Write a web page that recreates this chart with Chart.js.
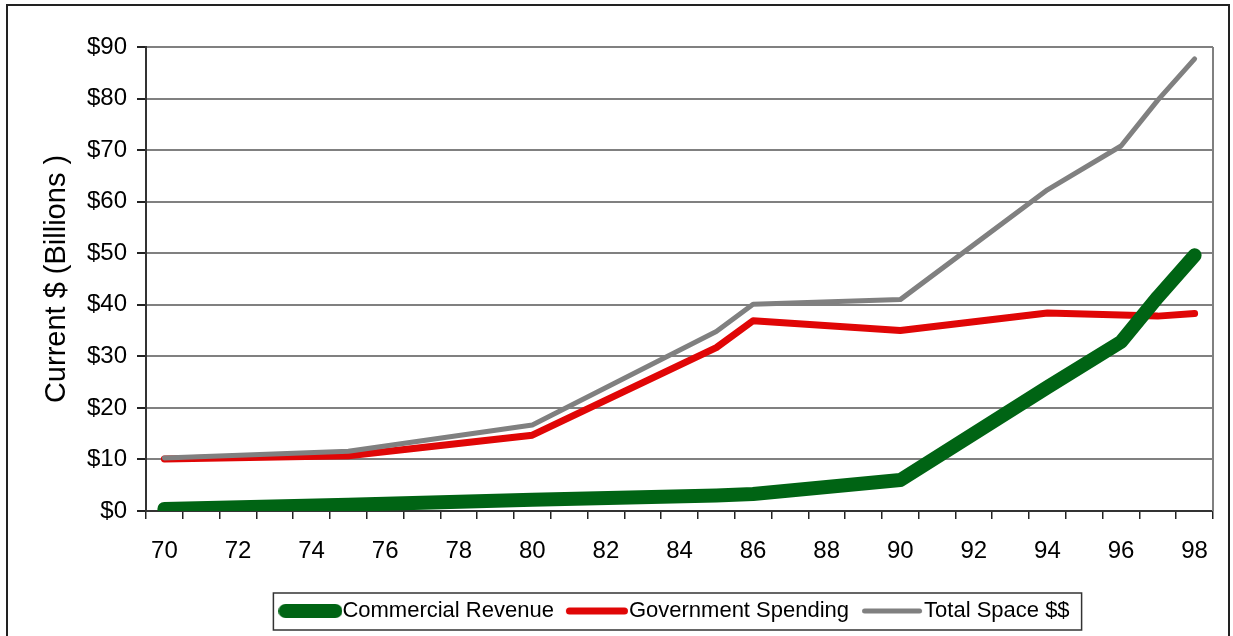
<!DOCTYPE html>
<html>
<head>
<meta charset="utf-8">
<script src="https://cdn.jsdelivr.net/npm/chart.js@4.4.1/dist/chart.umd.min.js"></script>
<style>
  html, body { margin: 0; padding: 0; background: #fff; }
  #wrap { position: relative; width: 1233px; height: 636px; }
</style>
</head>
<body>
<div id="wrap"><canvas id="spaceChart"></canvas></div>
<script>
// x axis runs one category per year, labels shown on even years only
const years = [];
for (let y = 70; y <= 98; y++) years.push(String(y));

const pointYears = ['70', '75', '80', '85', '86', '90', '94', '96', '97', '98'];
const commercialRevenue = [0.4, 1.2, 2.2, 3.0, 3.3, 6.0, 24.0, 32.8, 41.5, 49.6];
const governmentSpending = [10.1, 10.7, 14.7, 31.7, 36.9, 35.0, 38.4, 38.0, 37.8, 38.3];
const totalSpace = [10.3, 11.6, 16.7, 34.8, 40.1, 41.0, 62.3, 70.8, 79.7, 87.7];

const SANS = '"Liberation Sans", Arial, sans-serif';

function series(values) {
    return pointYears.map((yr, i) => ({ x: yr, y: values[i] }));
}

// round-capped line sample used as the legend marker
function legendLine(color, width, inset) {
    const cv = document.createElement('canvas');
    cv.width = 64;
    cv.height = 16;
    const g = cv.getContext('2d');
    g.strokeStyle = color;
    g.lineWidth = width;
    g.lineCap = 'round';
    g.beginPath();
    g.moveTo(inset + width / 2, 8);
    g.lineTo(64 - inset - width / 2, 8);
    g.stroke();
    return cv;
}

// white background, outer frame, right edge of the plot box, legend frame
const framePlugin = {
    id: 'frames',
    beforeDraw(chart) {
        const c = chart.ctx;
        c.save();
        c.fillStyle = '#fff';
        c.fillRect(0, 0, chart.width, chart.height);
        c.strokeStyle = '#222';
        c.lineWidth = 2;
        c.strokeRect(7, 5, 1222, 640);
        c.restore();
    },
    beforeDatasetsDraw(chart) {
        const a = chart.chartArea;
        const c = chart.ctx;
        c.save();
        c.strokeStyle = '#808080';
        c.lineWidth = 2;
        c.beginPath();
        c.moveTo(a.right, a.top);
        c.lineTo(a.right, a.bottom);
        c.stroke();
        c.restore();
    },
    afterDraw(chart) {
        const boxes = chart.legend && chart.legend.legendHitBoxes;
        if (!boxes || !boxes.length) return;
        const first = boxes[0];
        const last = boxes[boxes.length - 1];
        const c = chart.ctx;
        c.save();
        c.strokeStyle = '#333';
        c.lineWidth = 1.5;
        const x0 = first.left - 16;
        const x1 = last.left + last.width + 12;
        c.strokeRect(x0, first.top - 7, x1 - x0, first.height + 15);
        c.restore();
    }
};

const ctx = document.getElementById('spaceChart').getContext('2d');

new Chart(ctx, {
    type: 'line',
    data: {
        labels: years,
        datasets: [{
            label: 'Commercial Revenue',
            data: series(commercialRevenue),
            borderColor: '#006414',
            backgroundColor: '#006414',
            borderWidth: 14,
            borderCapStyle: 'round',
            borderJoinStyle: 'round',
            pointRadius: 0,
            pointStyle: legendLine('#006414', 14, 0),
            tension: 0,
            order: 0
        }, {
            label: 'Government Spending',
            data: series(governmentSpending),
            borderColor: '#e00606',
            backgroundColor: '#e00606',
            borderWidth: 7,
            borderCapStyle: 'round',
            borderJoinStyle: 'round',
            pointRadius: 0,
            pointStyle: legendLine('#e00606', 7, 1),
            tension: 0,
            order: 2
        }, {
            label: 'Total Space $$',
            data: series(totalSpace),
            borderColor: '#808080',
            backgroundColor: '#808080',
            borderWidth: 5,
            borderCapStyle: 'round',
            borderJoinStyle: 'round',
            pointRadius: 0,
            pointStyle: legendLine('#808080', 5, 2),
            tension: 0,
            order: 1
        }]
    },
    options: {
        responsive: true,
        maintainAspectRatio: false,
        animation: false,
        layout: {
            padding: { left: 20, right: 20, top: 47, bottom: 4 }
        },
        scales: {
            x: {
                type: 'category',
                offset: true,
                afterFit(scale) { scale.height = 67; },
                grid: {
                    offset: true,
                    drawOnChartArea: false,
                    drawTicks: true,
                    tickLength: 8,
                    tickColor: '#222',
                    lineWidth: 1.5
                },
                border: { color: '#333', width: 2 },
                ticks: {
                    autoSkip: false,
                    maxRotation: 0,
                    padding: 18,
                    color: '#000',
                    font: { family: SANS, size: 24 },
                    callback: function (val) {
                        const lbl = this.getLabelForValue(val);
                        return Number(lbl) % 2 === 0 ? lbl : '';
                    }
                }
            },
            y: {
                min: 0,
                max: 90,
                afterFit(scale) { scale.width = 126; },
                grid: {
                    color: '#808080',
                    lineWidth: 2,
                    tickLength: 9,
                    tickColor: '#222'
                },
                border: { color: '#333', width: 2 },
                ticks: {
                    stepSize: 10,
                    padding: 10,
                    color: '#000',
                    font: { family: SANS, size: 24 },
                    callback: v => '$' + v
                },
                title: {
                    display: true,
                    text: 'Current $ (Billions )',
                    color: '#000',
                    padding: { top: 20, bottom: 0 },
                    font: { family: SANS, size: 29 }
                }
            }
        },
        plugins: {
            tooltip: { enabled: false },
            legend: {
                position: 'bottom',
                fullSize: false,
                labels: {
                    usePointStyle: true,
                    pointStyleWidth: 42,
                    padding: 22,
                    color: '#000',
                    font: { family: SANS, size: 22 },
                    sort: (a, b) => a.datasetIndex - b.datasetIndex
                }
            }
        }
    },
    plugins: [framePlugin]
});
</script>
</body>
</html>
